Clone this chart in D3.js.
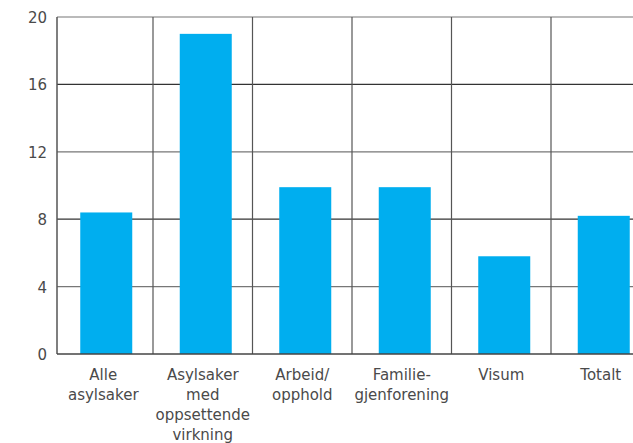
<!DOCTYPE html>
<html>
<head>
<meta charset="utf-8">
<script src="https://cdn.jsdelivr.net/npm/d3@7"></script>
<style>
  body { margin: 0; background: #fff; }
  text { font-family: "DejaVu Sans", sans-serif; fill: #4a4a4a; }
</style>
</head>
<body>
<div id="viz"></div>
<script>
var categories = [
  ["Alle", "asylsaker"],
  ["Asylsaker", "med", "oppsettende", "virkning"],
  ["Arbeid/", "opphold"],
  ["Familie-", "gjenforening"],
  ["Visum"],
  ["Totalt"]
];
var values = [8.4, 19.0, 9.9, 9.9, 5.8, 8.2];
var yTicks = [0, 4, 8, 12, 16, 20];

var w = 633, h = 443;
var margin = {left: 57, top: 17, bottom: 89};

var svg = d3.select("#viz").append("svg")
  .attr("width", w)
  .attr("height", h);

// chart continues past the right edge of the window
var x = d3.scaleBand()
  .domain(d3.range(categories.length))
  .range([53.5, 650.5]);

var y = d3.scaleLinear()
  .domain([0, 20])
  .range([h - margin.bottom, margin.top]);

// horizontal grid
svg.selectAll("line.hgrid")
  .data(yTicks.slice(1))
  .enter().append("line")
  .attr("class", "hgrid")
  .attr("x1", margin.left).attr("x2", w)
  .attr("y1", function(d) { return y(d); })
  .attr("y2", function(d) { return y(d); })
  .style("stroke", function(d, i) { return i % 2 ? "#333" : "#777"; })
  .style("stroke-width", 1.2);

// vertical separators between categories
svg.selectAll("line.vgrid")
  .data(d3.range(1, categories.length))
  .enter().append("line")
  .attr("class", "vgrid")
  .attr("x1", function(d) { return x(d); })
  .attr("x2", function(d) { return x(d); })
  .attr("y1", y(20)).attr("y2", y(0))
  .style("stroke", "#555")
  .style("stroke-width", 1.2);

// bars
var bw = 52;
svg.selectAll("rect.bar")
  .data(values)
  .enter().append("rect")
  .attr("class", "bar")
  .attr("x", function(d, i) { return x(i) + x.bandwidth() / 2 - bw / 2 + 3; })
  .attr("y", function(d) { return y(d); })
  .attr("width", bw)
  .attr("height", function(d) { return y(0) - y(d); })
  .attr("fill", "#00aeef");

// axes lines
svg.append("line")
  .attr("x1", margin.left).attr("x2", margin.left)
  .attr("y1", y(20)).attr("y2", y(0))
  .style("stroke", "#555").style("stroke-width", 1.5);
svg.append("line")
  .attr("x1", margin.left).attr("x2", w)
  .attr("y1", y(0)).attr("y2", y(0))
  .style("stroke", "#444").style("stroke-width", 1.5);

// y tick labels
svg.selectAll("text.ytick")
  .data(yTicks)
  .enter().append("text")
  .attr("class", "ytick")
  .attr("x", 47)
  .attr("y", function(d) { return y(d) + 6; })
  .attr("text-anchor", "end")
  .style("font-size", "15px")
  .text(function(d) { return d; });

// category labels
var lab = svg.selectAll("text.xlab")
  .data(categories)
  .enter().append("text")
  .attr("class", "xlab")
  .attr("text-anchor", "middle")
  .style("font-size", "15px");

lab.selectAll("tspan")
  .data(function(d, i) { return d.map(function(s) { return {s: s, i: i}; }); })
  .enter().append("tspan")
  .attr("x", function(d) { return x(d.i) + x.bandwidth() / 2; })
  .attr("y", function(d, j) { return 380 + j * 20; })
  .text(function(d) { return d.s; });
</script>
</body>
</html>
